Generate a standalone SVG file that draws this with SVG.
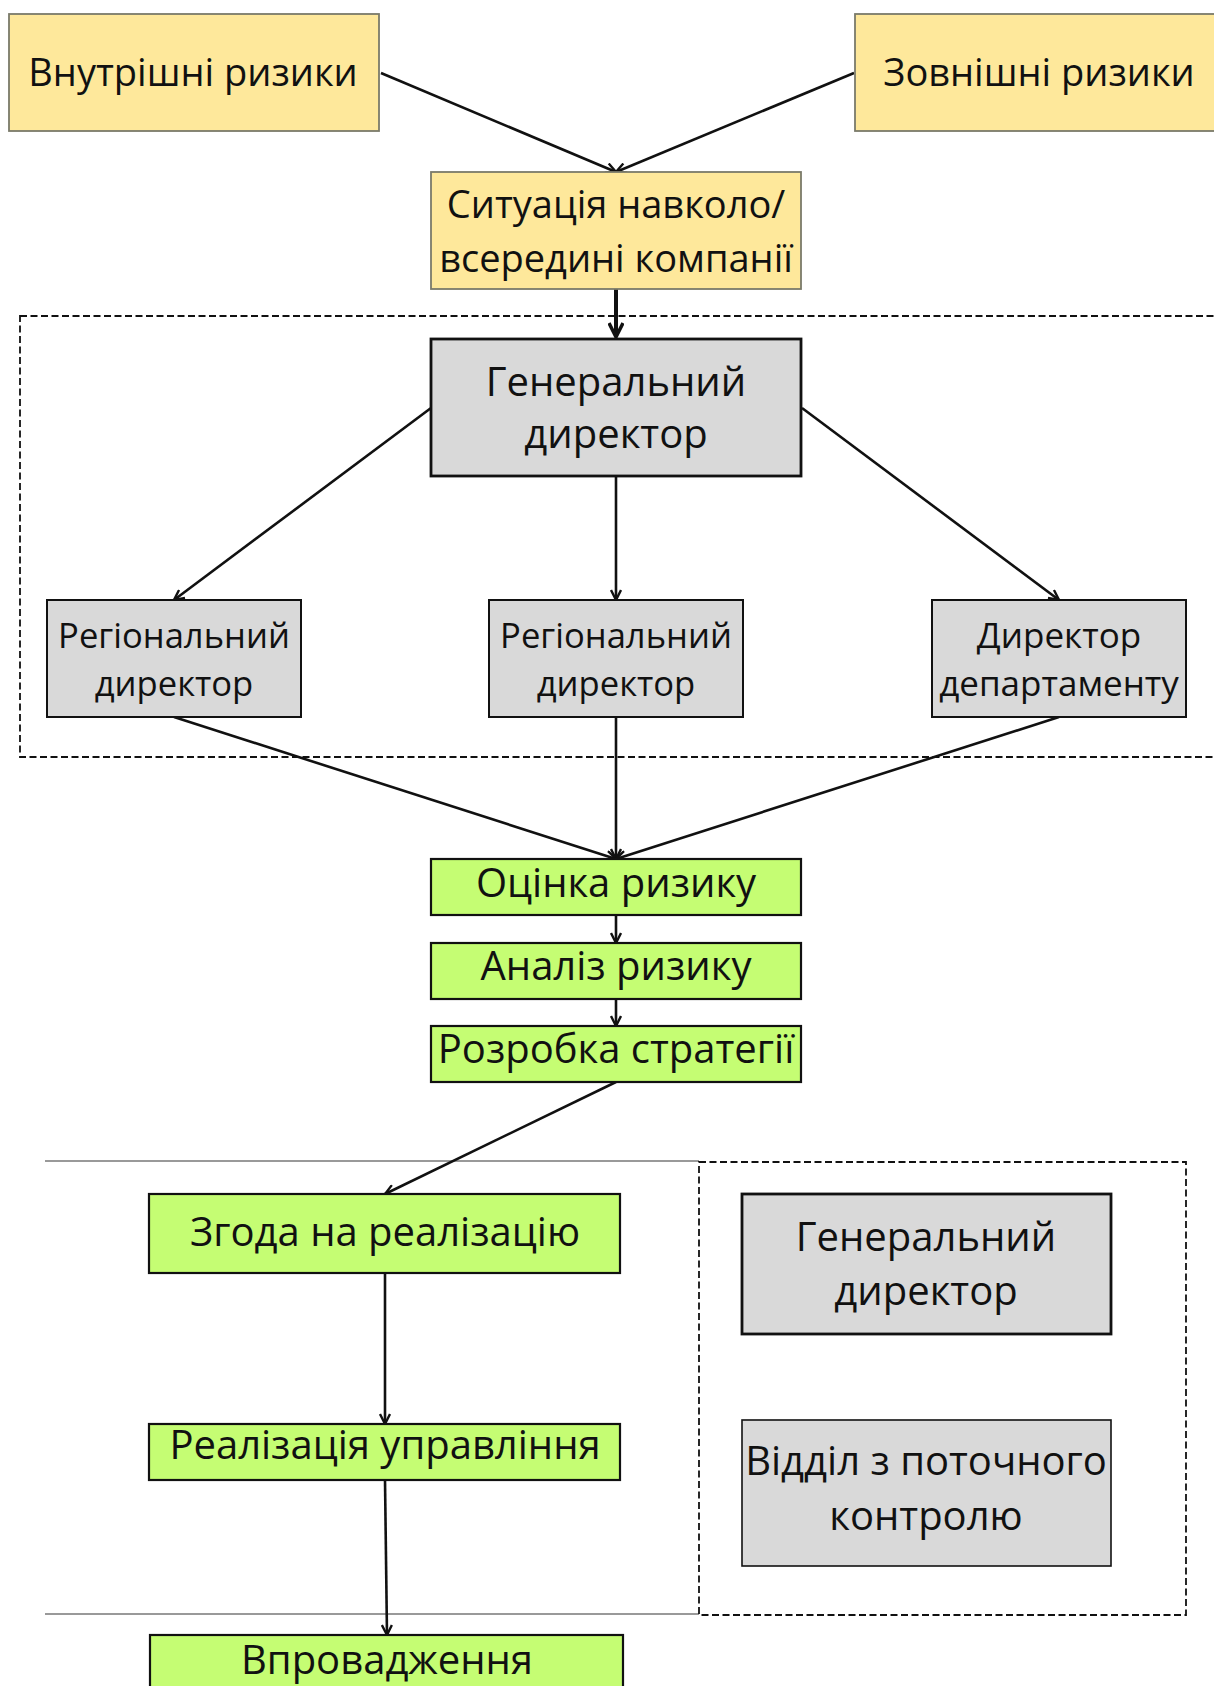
<svg xmlns="http://www.w3.org/2000/svg" width="1214" height="1686" viewBox="0 0 1214 1686">
<defs>
<style>
text{font-family:"Open Sans","Noto Sans","DejaVu Sans",sans-serif;fill:#111;text-anchor:middle}
.y{fill:#fee89b;stroke:#7a7a6a;stroke-width:1.8}
.g{fill:#d9d9d9;stroke:#111;stroke-width:2}
.gt{fill:#d9d9d9;stroke:#111;stroke-width:2.8}
.l{fill:#c5fd73;stroke:#111;stroke-width:2.2}
.c{stroke:#111;stroke-width:2.6;fill:none;marker-end:url(#ah)}
.dash{fill:none;stroke:#111;stroke-width:1.8;stroke-dasharray:7 3.5}
.sep{stroke:#777;stroke-width:1.3}
</style>
<marker id="ah" viewBox="0 0 12 12" refX="11" refY="6" markerWidth="12" markerHeight="12" markerUnits="userSpaceOnUse" orient="auto">
<path d="M1,1 L11,6 L1,11" fill="none" stroke="#111" stroke-width="2.4"/>
</marker>
<marker id="ahb" viewBox="0 0 16 16" refX="15" refY="8" markerWidth="16" markerHeight="16" markerUnits="userSpaceOnUse" orient="auto">
<path d="M1,1 L15,8 L1,15" fill="none" stroke="#111" stroke-width="3.5"/>
</marker>
</defs>
<rect width="1214" height="1686" fill="#fff"/>
<g id="frames">
<rect class="dash" x="20" y="316" width="1200" height="441"/>
<line class="sep" x1="45" y1="1161" x2="699" y2="1161"/>
<line class="sep" x1="45" y1="1614" x2="699" y2="1614"/>
<rect class="dash" x="699" y="1162" width="487" height="453"/>
</g>
<g id="connectors">
<line class="c" x1="381" y1="73" x2="616" y2="172"/>
<line class="c" x1="854" y1="73" x2="616" y2="172"/>
<line x1="616" y1="289" x2="616" y2="337" stroke="#111" stroke-width="4" marker-end="url(#ahb)"/>
<line class="c" x1="431" y1="408" x2="174" y2="600"/>
<line class="c" x1="616" y1="476" x2="616" y2="600"/>
<line class="c" x1="802" y1="408" x2="1059" y2="600"/>
<line class="c" x1="174" y1="717" x2="616" y2="859"/>
<line class="c" x1="616" y1="717" x2="616" y2="859"/>
<line class="c" x1="1059" y1="717" x2="616" y2="859"/>
<line class="c" x1="616" y1="915" x2="616" y2="943"/>
<line class="c" x1="616" y1="999" x2="616" y2="1026"/>
<line class="c" x1="616" y1="1082" x2="385" y2="1194"/>
<line class="c" x1="385" y1="1273" x2="385" y2="1424"/>
<line class="c" x1="385" y1="1480" x2="387" y2="1635"/>
</g>
<g id="n-internal"><rect class="y" x="9" y="14" width="370" height="117"/><text x="193" y="86" font-size="38">Внутрішні ризики</text></g>
<g id="n-external"><rect class="y" x="855" y="14" width="362" height="117"/><text x="1039" y="86" font-size="38">Зовнішні ризики</text></g>
<g id="n-situation"><rect class="y" x="431" y="172" width="370" height="117"/><text x="616" y="218" font-size="38">Ситуація навколо/</text><text x="616" y="272" font-size="38">всередині компанії</text></g>
<g id="n-ceo"><rect class="gt" x="431" y="339" width="370" height="137"/><text x="616" y="396" font-size="40">Генеральний</text><text x="616" y="448" font-size="40">директор</text></g>
<g id="n-reg1"><rect class="g" x="47" y="600" width="254" height="117"/><text x="174" y="648" font-size="34.6">Регіональний</text><text x="174" y="696" font-size="34.6">директор</text></g>
<g id="n-reg2"><rect class="g" x="489" y="600" width="254" height="117"/><text x="616" y="648" font-size="34.6">Регіональний</text><text x="616" y="696" font-size="34.6">директор</text></g>
<g id="n-dept"><rect class="g" x="932" y="600" width="254" height="117"/><text x="1059" y="648" font-size="35">Директор</text><text x="1059" y="696" font-size="35">департаменту</text></g>
<g id="n-assess"><rect class="l" x="431" y="859" width="370" height="56"/><text x="616" y="897" font-size="40">Оцінка ризику</text></g>
<g id="n-analysis"><rect class="l" x="431" y="943" width="370" height="56"/><text x="616" y="980" font-size="40">Аналіз ризику</text></g>
<g id="n-strategy"><rect class="l" x="431" y="1026" width="370" height="56"/><text x="616" y="1063" font-size="40">Розробка стратегії</text></g>
<g id="n-approval"><rect class="l" x="149" y="1194" width="471" height="79"/><text x="385" y="1246" font-size="40">Згода на реалізацію</text></g>
<g id="n-implement"><rect class="l" x="149" y="1424" width="471" height="56"/><text x="385" y="1459" font-size="40">Реалізація управління</text></g>
<g id="n-deploy"><rect class="l" x="150" y="1635" width="473" height="60"/><text x="387" y="1674" font-size="40">Впровадження</text></g>
<g id="n-ceo2"><rect class="gt" x="742" y="1194" width="369" height="140"/><text x="926" y="1251" font-size="40">Генеральний</text><text x="926" y="1305" font-size="40">директор</text></g>
<g id="n-control"><rect class="g" x="742" y="1420" width="369" height="146" style="stroke-width:1.6"/><text x="926" y="1475" font-size="40">Відділ з поточного</text><text x="926" y="1530" font-size="40">контролю</text></g>
</svg>
